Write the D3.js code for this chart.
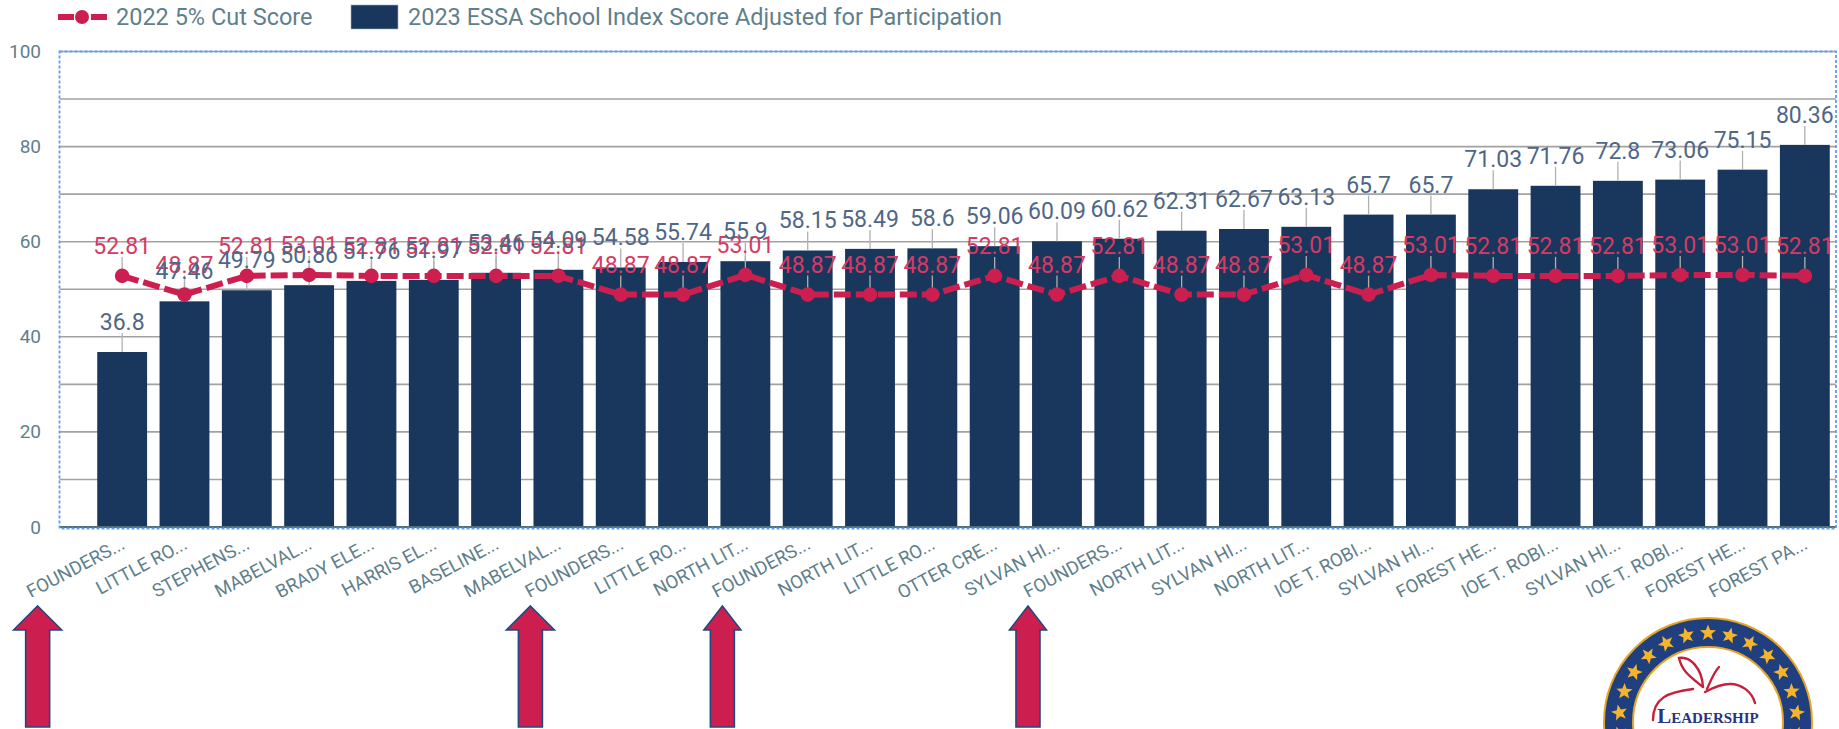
<!DOCTYPE html>
<html><head><meta charset="utf-8">
<script src="https://cdn.jsdelivr.net/npm/d3@7/dist/d3.min.js"></script>
<style>html,body{margin:0;padding:0;background:#fff;overflow:hidden}svg{display:block}text{font-family:Roboto,sans-serif}</style>
</head><body><svg id="c" width="1839" height="729"></svg>
<script>
const categories=["FOUNDERS...","LITTLE RO...","STEPHENS...","MABELVAL...","BRADY ELE...","HARRIS EL...","BASELINE...","MABELVAL...","FOUNDERS...","LITTLE RO...","NORTH LIT...","FOUNDERS...","NORTH LIT...","LITTLE RO...","OTTER CRE...","SYLVAN HI...","FOUNDERS...","NORTH LIT...","SYLVAN HI...","NORTH LIT...","IOE T. ROBI...","SYLVAN HI...","FOREST HE...","IOE T. ROBI...","SYLVAN HI...","IOE T. ROBI...","FOREST HE...","FOREST PA..."];
const indexScores=[36.8,47.46,49.79,50.86,51.76,51.97,53.46,54.09,54.58,55.74,55.9,58.15,58.49,58.6,59.06,60.09,60.62,62.31,62.67,63.13,65.7,65.7,71.03,71.76,72.8,73.06,75.15,80.36];
const cutScores=[52.81,48.87,52.81,53.01,52.81,52.81,52.81,52.81,48.87,48.87,53.01,48.87,48.87,48.87,52.81,48.87,52.81,48.87,48.87,53.01,48.87,53.01,52.81,52.81,52.81,53.01,53.01,52.81];
const yTicks=[0,20,40,60,80,100];
const gridTicks=[10,20,30,40,50,60,70,80,90,100];
const seriesNames=["2022 5% Cut Score","2023 ESSA School Index Score Adjusted for Participation"];
const arrowCategoryIndex=[0,7,10,15];

const RED="#cc1f50",REDTXT="#d63a64",NAVY="#19375c",SLATE="#5f7f8c",VAL="#4f6787";
const svg=d3.select("#c");
const L=59.5,R=1836,T=51.5,B=527;
const x=d3.scaleBand().domain(d3.range(categories.length)).range([91,1836]).paddingInner(0.2).paddingOuter(0.1);
const y=d3.scaleLinear().domain([0,100]).range([B,T]);
const cx=i=>x(i)+x.bandwidth()/2;

svg.append("defs").append("clipPath").attr("id","xclip").append("rect").attr("x",0).attr("y",530).attr("width",1839).attr("height",67);

// grid
svg.append("g").selectAll("line").data(gridTicks).join("line")
 .attr("x1",L).attr("x2",R).attr("y1",d=>y(d)).attr("y2",d=>y(d))
 .attr("stroke","#a2a2a2").attr("stroke-width",1.6);

// bars
svg.append("g").selectAll("rect").data(indexScores).join("rect")
 .attr("x",(d,i)=>x(i)).attr("width",x.bandwidth()).attr("y",d=>y(d)).attr("height",d=>B-y(d))
 .attr("fill",NAVY);

// axis baseline
svg.append("line").attr("x1",L).attr("x2",R).attr("y1",B).attr("y2",B).attr("stroke","#4f6d7a").attr("stroke-width",2);

// plot outline
svg.append("rect").attr("x",L).attr("y",T).attr("width",R-L).attr("height",B+1.5-T)
 .attr("fill","none").attr("stroke","#5f9df0").attr("stroke-width",1.8).attr("stroke-dasharray","3 2");

// y axis
const yAxis=svg.append("g").attr("transform",`translate(47,0)`).call(d3.axisLeft(y).tickValues(yTicks).tickSize(0).tickPadding(6));
yAxis.select(".domain").remove();
yAxis.selectAll("text").attr("fill",SLATE).style("font-size","19px").style("font-family","Roboto");

// x axis
const xAxis=svg.append("g").attr("clip-path","url(#xclip)");
xAxis.selectAll("text").data(categories).join("text")
 .attr("transform",(d,i)=>`translate(${cx(i)+4},${548}) rotate(-28)`)
 .attr("text-anchor","end").attr("fill",SLATE).style("font-size","18.5px").text(d=>d);

// leaders
const leaders=(vals)=>svg.append("g").selectAll("line").data(vals).join("line")
 .attr("x1",(d,i)=>cx(i)).attr("x2",(d,i)=>cx(i)).attr("y1",d=>y(d)).attr("y2",d=>y(d)-19)
 .attr("stroke","#b0b0b0").attr("stroke-width",1.3);
leaders(indexScores);
leaders(cutScores);

// line
const line=d3.line().x((d,i)=>cx(i)).y(d=>y(d));
svg.append("path").datum(cutScores).attr("d",line).attr("fill","none").attr("stroke",RED).attr("stroke-width",6).attr("stroke-dasharray","17 5");
svg.append("g").selectAll("circle").data(cutScores).join("circle")
 .attr("cx",(d,i)=>cx(i)).attr("cy",d=>y(d)).attr("r",7.3).attr("fill",RED);

// value labels
const labels=(vals,col)=>svg.append("g").selectAll("text").data(vals).join("text")
 .attr("x",(d,i)=>cx(i)).attr("y",d=>y(d)-22).attr("text-anchor","middle")
 .attr("fill",col).style("font-size","23px").text(d=>d);
labels(cutScores,REDTXT);
labels(indexScores,VAL);

// legend
const lg=svg.append("g");
lg.append("line").attr("x1",58).attr("x2",107).attr("y1",17).attr("y2",17).attr("stroke",RED).attr("stroke-width",6).attr("stroke-dasharray","16 5 7 5 16");
lg.append("circle").attr("cx",82).attr("cy",17).attr("r",7).attr("fill",RED);
lg.append("text").attr("x",116).attr("y",25).attr("fill",SLATE).style("font-size","23.5px").text(seriesNames[0]);
lg.append("rect").attr("x",351).attr("y",5).attr("width",47).attr("height",24).attr("fill",NAVY).attr("stroke","#9fb0c0").attr("stroke-width",.6);
lg.append("text").attr("x",408).attr("y",25).attr("fill",SLATE).style("font-size","23.5px").text(seriesNames[1]);

// arrows annotating selected schools (offset from each school's tick to its label start)
const arrowOffsets=[-84.5,-28,-23,-29];
svg.append("g").selectAll("path").data(arrowCategoryIndex).join("path")
 .attr("transform",(d,i)=>`translate(${cx(d)+arrowOffsets[i]},0)`)
 .attr("d",(d,i)=>{const H=i<2?24:18.5,sw=12;
   return `M0,606L${H},630L${sw},630L${sw},727L${-sw},727L${-sw},630L${-H},630Z`;})
 .attr("fill",RED).attr("stroke","#1f4a80").attr("stroke-width",1.6);

// logo
const logo=svg.append("g").attr("transform","translate(1708,722)");
logo.append("circle").attr("r",104).attr("fill","#1f3f7f").attr("stroke","#e5a52a").attr("stroke-width",2);
logo.append("circle").attr("r",75).attr("fill","#fff").attr("stroke","#e5a52a").attr("stroke-width",2);
const star=d3.range(10).map(i=>{const a=i*Math.PI/5,r=i%2?3.6:8.5;return [r*Math.sin(a),-r*Math.cos(a)];});
svg.select("defs").append("path").attr("id","st").attr("d","M"+star.join("L")+"Z").attr("fill","#f5b42a");
d3.range(-7,8).forEach(k=>{const a=k*14*Math.PI/180;
 logo.append("use").attr("href","#st").attr("transform",`translate(${89*Math.sin(a)},${-89*Math.cos(a)}) rotate(${k*14})`);});
const apple=logo.append("g").attr("fill","none").attr("stroke","#c8203a").attr("stroke-width",2.4).attr("stroke-linecap","round");
apple.append("path").attr("d","M-55,-2C-55,-24 -40,-30 -15,-33");
apple.append("path").attr("d","M-3,-30C8,-36 16,-38 22,-38C34,-38 44,-30 47,-19");
apple.append("path").attr("d","M-5,-35C-16,-44 -26,-50 -29,-64C-18,-66 -6,-54 -5,-35");
apple.append("path").attr("d","M-1,-33C3,-42 6,-50 11,-55");
logo.append("text").attr("x",0).attr("y",1).attr("text-anchor","middle").attr("fill","#27347f")
 .style("font-family","'Liberation Serif',serif").style("font-weight","700").style("font-size","21px").style("font-variant","small-caps").text("Leadership");
</script></body></html>
